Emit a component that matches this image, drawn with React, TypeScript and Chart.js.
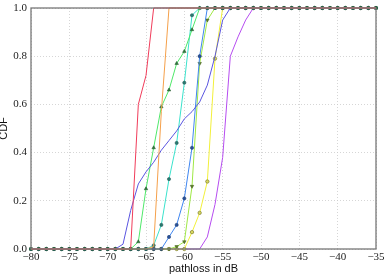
import React, { useEffect, useRef } from 'react';
import { Chart, registerables } from 'chart.js';

Chart.register(...registerables);

// pathloss grid in dB
const pathloss = [
  -80, -79, -78, -77, -76, -75, -74, -73, -72, -71,
  -70, -69, -68, -67, -66, -65, -64, -63, -62, -61,
  -60, -59, -58, -57, -56, -55, -54, -53, -52, -51,
  -50, -49, -48, -47, -46, -45, -44, -43, -42, -41,
  -40, -39, -38, -37, -36, -35,
];

const cdfRed = [
  0, 0, 0, 0, 0, 0, 0, 0, 0, 0,
  0, 0, 0, 0, 0.60, 0.72, 1, 1, 1, 1,
  1, 1, 1, 1, 1, 1, 1, 1, 1, 1,
  1, 1, 1, 1, 1, 1, 1, 1, 1, 1,
  1, 1, 1, 1, 1, 1,
];
const cdfOrange = [
  0, 0, 0, 0, 0, 0, 0, 0, 0, 0,
  0, 0, 0, 0, 0, 0, 0.01, 0.57, 1, 1,
  1, 1, 1, 1, 1, 1, 1, 1, 1, 1,
  1, 1, 1, 1, 1, 1, 1, 1, 1, 1,
  1, 1, 1, 1, 1, 1,
];
const cdfIndigo = [
  0, 0, 0, 0, 0, 0, 0, 0, 0, 0,
  0, 0, 0.02, 0.16, 0.27, 0.32, 0.36, 0.41, 0.45, 0.49,
  0.54, 0.57, 0.61, 0.68, 0.80, 0.95, 1, 1, 1, 1,
  1, 1, 1, 1, 1, 1, 1, 1, 1, 1,
  1, 1, 1, 1, 1, 1,
];
const cdfGreen = [
  0, 0, 0, 0, 0, 0, 0, 0, 0, 0,
  0, 0, 0, 0, 0.03, 0.25, 0.42, 0.59, 0.66, 0.77,
  0.82, 0.91, 1, 1, 1, 1, 1, 1, 1, 1,
  1, 1, 1, 1, 1, 1, 1, 1, 1, 1,
  1, 1, 1, 1, 1, 1,
];
const cdfTeal = [
  0, 0, 0, 0, 0, 0, 0, 0, 0, 0,
  0, 0, 0, 0, 0, 0, 0.015, 0.10, 0.29, 0.44,
  0.69, 0.97, 1, 1, 1, 1, 1, 1, 1, 1,
  1, 1, 1, 1, 1, 1, 1, 1, 1, 1,
  1, 1, 1, 1, 1, 1,
];
const cdfSky = [
  0, 0, 0, 0, 0, 0, 0, 0, 0, 0,
  0, 0, 0, 0, 0, 0, 0, 0, 0.05, 0.10,
  0.21, 0.42, 0.80, 1, 1, 1, 1, 1, 1, 1,
  1, 1, 1, 1, 1, 1, 1, 1, 1, 1,
  1, 1, 1, 1, 1, 1,
];
const cdfLime = [
  0, 0, 0, 0, 0, 0, 0, 0, 0, 0,
  0, 0, 0, 0, 0, 0, 0, 0, 0, 0.01,
  0.03, 0.26, 0.77, 0.95, 1, 1, 1, 1, 1, 1,
  1, 1, 1, 1, 1, 1, 1, 1, 1, 1,
  1, 1, 1, 1, 1, 1,
];
const cdfYellow = [
  0, 0, 0, 0, 0, 0, 0, 0, 0, 0,
  0, 0, 0, 0, 0, 0, 0, 0, 0, 0,
  0, 0.07, 0.15, 0.28, 0.79, 1, 1, 1, 1, 1,
  1, 1, 1, 1, 1, 1, 1, 1, 1, 1,
  1, 1, 1, 1, 1, 1,
];
const cdfPurple = [
  0, 0, 0, 0, 0, 0, 0, 0, 0, 0,
  0, 0, 0, 0, 0, 0, 0, 0, 0, 0,
  0, 0, 0, 0.05, 0.185, 0.38, 0.80, 0.88, 0.95, 1,
  1, 1, 1, 1, 1, 1, 1, 1, 1, 1,
  1, 1, 1, 1, 1, 1,
];

const xTitle = 'pathloss in dB';
const yTitle = 'CDF';

const framePlugin = {
  id: 'frame',
  afterDatasetsDraw(chart: any) {
    const { ctx, chartArea: a } = chart;
    ctx.save();
    ctx.strokeStyle = '#777777';
    ctx.lineWidth = 1.3;
    ctx.strokeRect(a.left, a.top, a.right - a.left, a.bottom - a.top);
    ctx.restore();
  },
};

const App = () => {
  const ref = useRef<HTMLCanvasElement>(null);

  useEffect(() => {
    const mk = (vals: number[]) => pathloss.map((x, i) => ({ x, y: vals[i] }));
    const plain = (label: string, vals: number[], color: string) => ({
      label,
      data: mk(vals),
      borderColor: color,
      backgroundColor: color,
      borderWidth: 1,
      pointRadius: 0,
      tension: 0,
      clip: false as any,
    });
    const marked = (
      label: string,
      vals: number[],
      color: string,
      mColor: string,
      mFill: string,
      style: string,
      rot: number,
      r: number
    ) => ({
      label,
      data: mk(vals),
      borderColor: color,
      backgroundColor: mFill,
      borderWidth: 1,
      pointRadius: r,
      pointStyle: style,
      pointRotation: rot,
      pointBorderColor: mColor,
      pointBackgroundColor: mFill,
      pointBorderWidth: 0.6,
      tension: 0,
      clip: false as any,
    });

    const chart = new Chart(ref.current as HTMLCanvasElement, {
      type: 'line',
      data: {
        datasets: [
          plain('a', cdfRed, '#f03c5a'),
          plain('b', cdfOrange, '#f5a04a'),
          plain('c', cdfIndigo, '#5a55e0'),
          marked('d', cdfGreen, '#4fe86a', '#2a5e34', '#2f7a3c', 'triangle', 0, 2.0),
          marked('e', cdfTeal, '#3ae2cc', '#235e5a', '#2a7a70', 'circle', 0, 1.6),
          marked('f', cdfSky, '#3f86f0', '#1f3f78', '#2a5298', 'circle', 0, 1.6),
          marked('g', cdfLime, '#9fe845', '#4a6422', '#5c7e2a', 'triangle', 180, 2.0),
          marked('h', cdfYellow, '#f2f03a', '#6e6e1e', '#d8d860', 'circle', 0, 1.7),
          plain('i', cdfPurple, '#b64cf0'),
        ],
      },
      options: {
        animation: false,
        responsive: false,
        devicePixelRatio: 1,
        events: [],
        layout: { padding: { left: 0, top: 8, right: 10, bottom: 0 } },
        plugins: { legend: { display: false }, tooltip: { enabled: false } },
        scales: {
          x: {
            type: 'linear',
            min: -80,
            max: -35,
            afterFit: (s: any) => {
              s.height = 25;
              s.paddingLeft = 0;
              s.paddingRight = 0;
            },
            ticks: {
              stepSize: 5,
              padding: 2,
              maxRotation: 0,
              color: '#222',
              font: { family: 'Liberation Serif', size: 11 },
              callback: (v: any) => (Number(v) < 0 ? '\u2212' + Math.abs(Number(v)) : String(v)),
            },
            grid: { color: '#cccccc', lineWidth: 0.8, drawTicks: false },
            border: { display: false, dash: [1, 2] },
            title: {
              display: true,
              text: xTitle,
              color: '#111',
              font: { family: 'Liberation Sans', size: 11, lineHeight: 1 },
              padding: { top: 0, bottom: 0 },
            },
          },
          y: {
            type: 'linear',
            min: 0,
            max: 1,
            afterFit: (s: any) => {
              s.width = 31;
              s.paddingTop = 0;
              s.paddingBottom = 0;
            },
            ticks: {
              stepSize: 0.2,
              padding: 4,
              color: '#222',
              font: { family: 'Liberation Serif', size: 11 },
              callback: (v: any) => Number(v).toFixed(1),
            },
            grid: { color: '#cccccc', lineWidth: 0.8, drawTicks: false },
            border: { display: false, dash: [1, 2] },
            title: {
              display: true,
              text: yTitle,
              color: '#111',
              font: { family: 'Liberation Sans', size: 11, lineHeight: 0.8 },
              padding: { top: 0, bottom: 0 },
            },
          },
        },
      },
      plugins: [framePlugin],
    } as any);
    return () => chart.destroy();
  }, []);

  return (
    <div style={{ position: 'absolute', left: 0, top: 0, width: 386, height: 274, background: '#fff' }}>
      <canvas ref={ref} width={386} height={274} style={{ display: 'block' }} />
    </div>
  );
};

export default App;
